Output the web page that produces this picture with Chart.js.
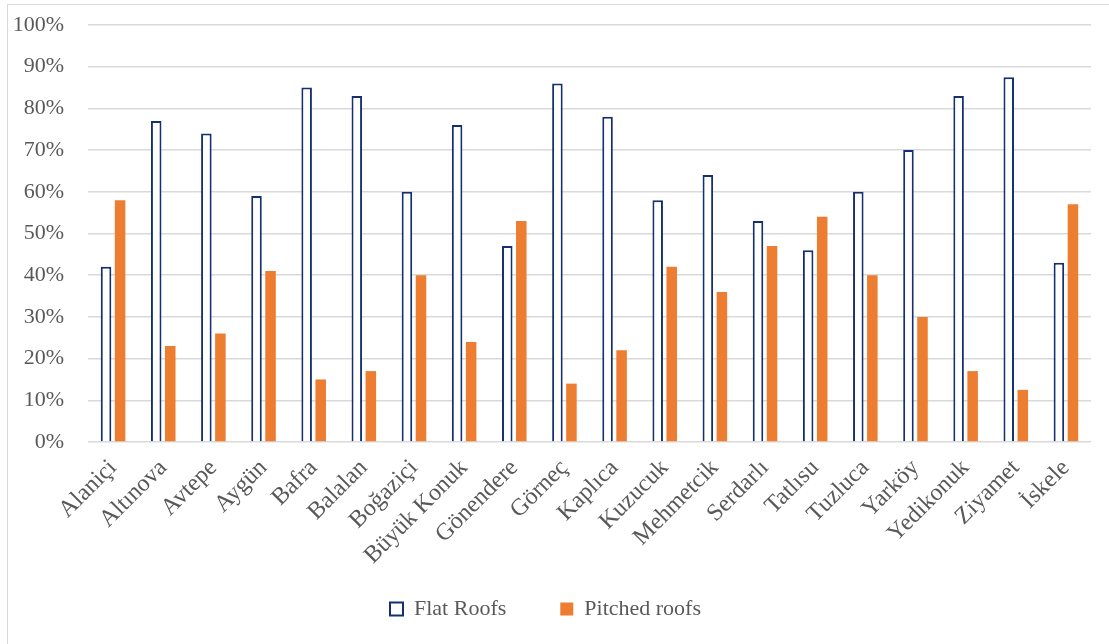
<!DOCTYPE html>
<html>
<head>
<meta charset="utf-8">
<script src="https://cdn.jsdelivr.net/npm/chart.js@4.4.1/dist/chart.umd.min.js"></script>
<style>
    html, body { margin: 0; padding: 0; background: #fff; overflow: hidden; }
    #frame {
        position: absolute; left: 7px; top: 4px;
        width: 1120px; height: 660px;
        border: 1px solid #d9d9d9;
    }
    #wrap { position: absolute; left: 0; top: 0; width: 1109px; height: 644px; }
</style>
</head>
<body>
<div id="frame"></div>
<div id="wrap"><canvas id="roofChart"></canvas></div>
<script>
// Data
const villages = ['Alaniçi', 'Altınova', 'Avtepe', 'Aygün', 'Bafra', 'Balalan', 'Boğaziçi', 'Büyük Konuk',
    'Gönendere', 'Görneç', 'Kaplıca', 'Kuzucuk', 'Mehmetcik', 'Serdarlı', 'Tatlısu', 'Tuzluca',
    'Yarköy', 'Yedikonuk', 'Ziyamet', 'İskele'];
const flatRoofs = [42, 77, 74, 59, 85, 83, 60, 76, 47, 86, 78, 58, 64, 53, 46, 60, 70, 83, 87.5, 43];
const pitchedRoofs = [58, 23, 26, 41, 15, 17, 40, 24, 53, 14, 22, 42, 36, 47, 54, 40, 30, 17, 12.5, 57];
const yTicks = [0, 10, 20, 30, 40, 50, 60, 70, 80, 90, 100];

const textColor = '#595959';
const serif = '"Liberation Serif", "Times New Roman", serif';

document.addEventListener('DOMContentLoaded', function() {
    const ctx = document.getElementById('roofChart').getContext('2d');
    new Chart(ctx, {
        type: 'bar',
        data: {
            labels: villages,
            datasets: [{
                label: 'Flat Roofs',
                data: flatRoofs,
                backgroundColor: '#ffffff',
                borderColor: '#14306e',
                borderWidth: 2,
                barPercentage: 0.75,
                categoryPercentage: 0.56
            }, {
                label: 'Pitched roofs',
                data: pitchedRoofs,
                backgroundColor: '#ed7d31',
                borderWidth: 0,
                barPercentage: 0.75,
                categoryPercentage: 0.56
            }]
        },
        options: {
            responsive: true,
            maintainAspectRatio: false,
            animation: false,
            layout: {
                padding: { left: 0, right: 18, top: 25, bottom: 14 }
            },
            plugins: {
                tooltip: { enabled: false },
                legend: {
                    position: 'bottom',
                    labels: {
                        color: textColor,
                        font: { family: serif, size: 22 },
                        boxWidth: 13,
                        boxHeight: 13,
                        padding: 10,
                        generateLabels: function(chart) {
                            const items = Chart.defaults.plugins.legend.labels.generateLabels(chart);
                            // widen the gap after the first item
                            items[0].text = items[0].text + '\u00a0'.repeat(8);
                            return items;
                        }
                    }
                }
            },
            scales: {
                x: {
                    grid: { display: false },
                    border: { display: false },
                    ticks: {
                        color: textColor,
                        font: { family: serif, size: 24 },
                        maxRotation: 45,
                        minRotation: 45,
                        autoSkip: false,
                        padding: 4
                    },
                    afterFit: function(scale) { scale.height = 146; }
                },
                y: {
                    min: 0,
                    max: 100,
                    afterBuildTicks: function(scale) {
                        scale.ticks = yTicks.map(v => ({ value: v }));
                    },
                    grid: {
                        color: '#d9d9d9',
                        lineWidth: 1.5,
                        drawTicks: false
                    },
                    border: { display: false },
                    ticks: {
                        color: textColor,
                        font: { family: serif, size: 22 },
                        padding: 24,
                        callback: function(value) {
                            return value + '%';
                        }
                    },
                    afterFit: function(scale) {
                        scale.width = 88;
                        scale.paddingTop = 0;
                        scale.paddingBottom = 0;
                    }
                }
            }
        }
    });
});
</script>
</body>
</html>
